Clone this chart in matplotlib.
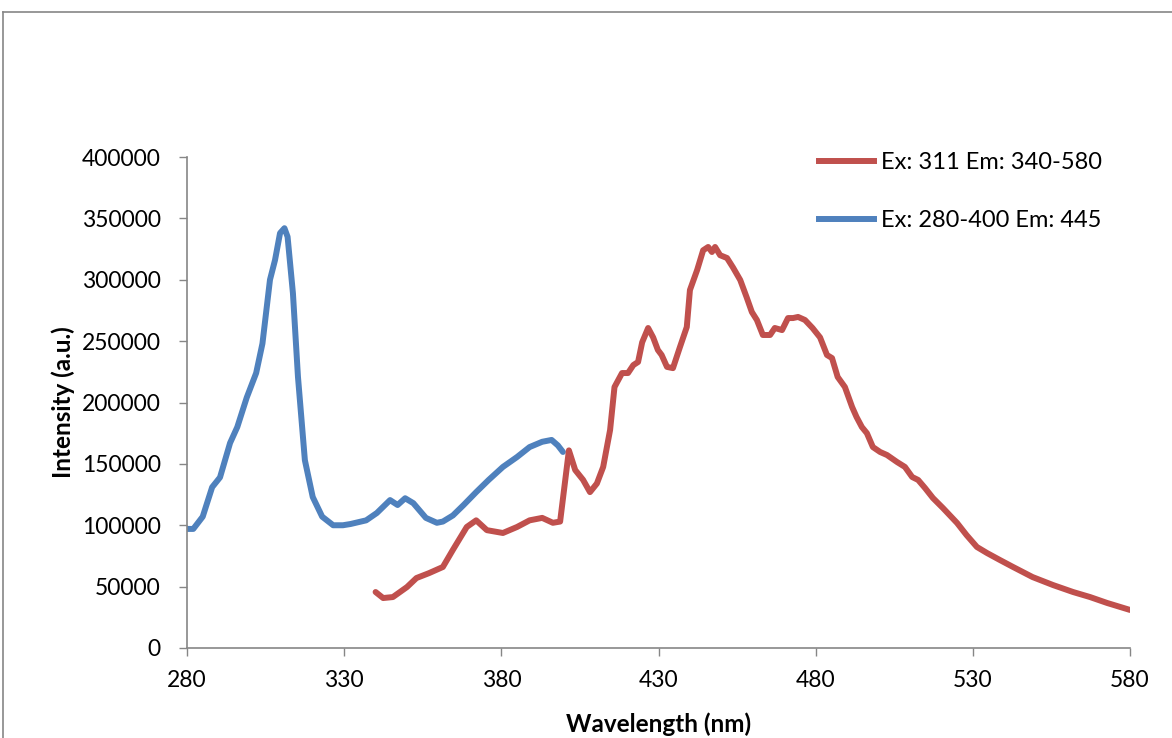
import numpy as np
import matplotlib.pyplot as plt
from matplotlib.lines import Line2D

# Excitation scan (Em: 445)
ex_nm = [280, 282, 285, 288, 290.5, 293.7, 296, 299, 302, 304, 306.4, 308,
         309.6, 311, 312, 313.7, 315.3, 317.5, 320, 323, 326.5, 329.6, 332,
         337, 340.4, 344.6, 347, 349.4, 352, 356, 359.5, 361.4, 364.6, 368,
         372, 376, 380.5, 385, 389, 393, 396, 398, 399.6]
ex_int = [97000, 97000, 107000, 131000, 139000, 167000, 180000, 204000,
          224000, 248000, 300000, 316000, 338000, 342000, 335000, 289000,
          221000, 153000, 123000, 107000, 100000, 100000, 101000, 104000,
          110000, 120500, 116500, 122000, 118000, 106000, 102000, 103000,
          108000, 116500, 127000, 137000, 147500, 155600, 163700, 168000,
          169500, 165000, 159700]

# Emission scan (Ex: 311)
em_nm = [340, 342.4, 345.5, 350, 353, 357, 361.4, 364.6, 369, 372, 375.4,
         380.5, 385, 389, 393, 396.4, 398.7, 401.5, 403.5, 406, 408.2, 410.4,
         412.4, 414.6, 416, 418.4, 420.3, 422, 423.5, 424.8, 426.7, 428.3,
         429.8, 431, 432.7, 434.6, 436.8, 439, 440, 442.3, 444.2, 445.8, 447,
         448, 449.6, 451.8, 453.7, 456, 458, 459.7, 461.3, 463.2, 465.5, 467,
         469.3, 471.2, 472.8, 474.4, 476.6, 479, 481.4, 483.6, 485.2, 487,
         489.3, 491.6, 493, 494.7, 496.3, 498.2, 500.5, 502.7, 505.9, 508.4,
         510.7, 512.6, 514.8, 517.3, 520.5, 525, 528, 531.3, 534.5, 538.6,
         542.8, 549, 555.5, 561.9, 567.3, 572.7, 580]
em_int = [45600, 40700, 41500, 49700, 57000, 61000, 66000, 80000, 98600,
          104000, 96000, 93700, 98600, 104000, 106000, 102000, 103000,
          161000, 145000, 137000, 127000, 134000, 147500, 177600, 212600,
          224000, 224000, 230500, 233000, 249000, 260700, 253000, 242800,
          238700, 229000, 228000, 245000, 261500, 291600, 308000, 324000,
          326700, 322600, 326700, 320000, 317700, 310000, 299800, 286000,
          273700, 267200, 255000, 255000, 260700, 259000, 268800, 268800,
          269700, 267200, 260700, 253000, 238700, 236200, 220800, 212600,
          196300, 188200, 180000, 175000, 163700, 159700, 157200, 151500,
          147500, 139300, 136900, 130300, 122200, 114000, 101800, 92000,
          82300, 77400, 71700, 66000, 57800, 51300, 45600, 41500, 36700,
          31000]

red = "#C0504D"
blue = "#4F81BD"
gray = "#868686"

plt.rcParams["font.family"] = ["Lato", "DejaVu Sans"]

fig = plt.figure(figsize=(11.72, 7.38), dpi=100)
ax = fig.add_axes([187 / 1172, 90 / 738, 943 / 1172, 491 / 738])

ax.plot(ex_nm, ex_int, color=blue, linewidth=4.3, solid_capstyle="round",
        solid_joinstyle="round")
ax.plot(em_nm, em_int, color=red, linewidth=4.3, solid_capstyle="round",
        solid_joinstyle="round")

ax.set_xlim(280, 580)
ax.set_ylim(0, 400000)
ax.set_xticks(np.arange(280, 581, 50))
ax.set_yticks(np.arange(0, 400001, 50000))
ax.tick_params(axis="both", labelsize=16.5, color=gray, length=6, width=1)
ax.tick_params(axis="x", pad=10)
ax.tick_params(axis="y", pad=13)
for s in ["top", "right"]:
    ax.spines[s].set_visible(False)
for s in ["left", "bottom"]:
    ax.spines[s].set_color(gray)
    ax.spines[s].set_linewidth(1.2)

ax.set_xlabel("Wavelength (nm)", fontsize=17.5, fontweight="bold", labelpad=15)
ax.set_ylabel("Intensity (a.u.)", fontsize=17.5, fontweight="bold", labelpad=5)

handles = [Line2D([], [], color=red, linewidth=4.3),
           Line2D([], [], color=blue, linewidth=4.3)]
fig.legend(handles, ["Ex: 311 Em: 340-580", "Ex: 280-400 Em: 445"],
           loc="upper left", bbox_to_anchor=(798 / 1172, 1 - 131 / 738),
           frameon=False, fontsize=17, handlelength=2.3, handletextpad=0.3,
           labelspacing=1.55)

# outer chart frame
fig.add_artist(Line2D([3 / 1172, 3 / 1172], [0, 1 - 12 / 738],
                      transform=fig.transFigure, color=gray, linewidth=1.2))
fig.add_artist(Line2D([3 / 1172, 1], [1 - 12 / 738, 1 - 12 / 738],
                      transform=fig.transFigure, color=gray, linewidth=1.2))

plt.savefig("out.png")
